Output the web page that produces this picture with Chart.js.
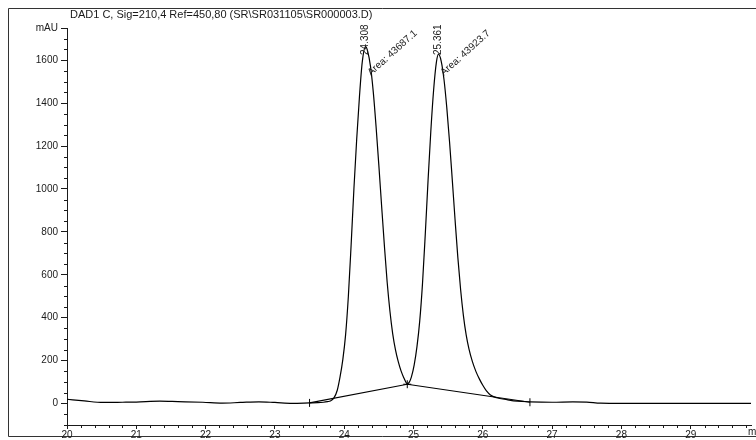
<!DOCTYPE html>
<html>
<head>
<meta charset="utf-8">
<script src="https://cdn.jsdelivr.net/npm/chart.js@4"></script>
<style>
  body { margin: 0; background: #fff; }
  canvas { display: block; }
</style>
</head>
<body>
<canvas id="chrom" width="756" height="440"></canvas>
<script>
// signal
const times = [20.00, 20.25, 20.52, 20.8, 21.0, 21.34, 21.6, 21.96, 22.24, 22.5, 22.77, 23.0, 23.25, 23.50,
  23.62, 23.70, 23.76, 23.80, 23.85, 23.90, 23.94, 23.98, 24.02, 24.06, 24.10, 24.14, 24.18, 24.22, 24.26, 24.308,
  24.34, 24.38, 24.42, 24.46, 24.50, 24.54, 24.58, 24.62, 24.66, 24.70, 24.74, 24.78, 24.82, 24.86, 24.89, 24.91,
  24.94, 24.97, 25.01, 25.05, 25.09, 25.13, 25.17, 25.21, 25.25, 25.29, 25.33, 25.361,
  25.40, 25.44, 25.48, 25.52, 25.56, 25.60, 25.64, 25.68, 25.72, 25.76, 25.80, 25.85, 25.90, 25.95, 26.00, 26.05,
  26.11, 26.20, 26.35, 26.50, 26.68, 27.0, 27.3, 27.5, 27.7, 28.0, 28.5, 29.0, 29.5, 29.87];
const signal = [20, 12, 5, 6, 7, 11, 9, 6, 2, 5, 8, 5, 1, 3,
  4, 6, 9, 12, 25, 62, 124, 205, 320, 500, 740, 1000, 1230, 1430, 1590, 1663,
  1640, 1570, 1450, 1290, 1110, 920, 735, 565, 430, 325, 250, 195, 152, 120, 100, 92,
  100, 124, 180, 265, 385, 560, 790, 1040, 1270, 1460, 1590, 1628,
  1595, 1510, 1380, 1220, 1040, 855, 680, 530, 410, 320, 255, 195, 150, 115, 85, 60,
  40, 27, 18, 11, 8, 6, 8, 7, 2, 1, 1, 1, 1, 1];

// integration baseline
const baseTimes = [23.5, 24.91, 26.68];
const baseValues = [3, 90, 6];

// peak annotations
const peakTimes = [24.308, 25.361];
const peakLabels = ['24.308', '25.361'];
const peakAreas = ['43687.1', '43923.7'];

const titleText = 'DAD1 C, Sig=210,4 Ref=450,80 (SR\\SR031105\\SR000003.D)';
const xTickValues = [20, 21, 22, 23, 24, 25, 26, 27, 28, 29];
const yTickValues = [0, 200, 400, 600, 800, 1000, 1200, 1400, 1600];
const yUnit = 'mAU';
const yUnitAt = 1750;
const xUnit = 'min';

const FONT = 'Liberation Sans, Arial, sans-serif';
const INK = '#1a1a1a';

const chromDecor = {
  id: 'chromDecor',
  beforeDraw(chart) {
    const { ctx } = chart;
    ctx.save();
    ctx.strokeStyle = '#333';
    ctx.lineWidth = 1;
    ctx.beginPath();
    ctx.moveTo(760, 8.5);
    ctx.lineTo(8.5, 8.5);
    ctx.lineTo(8.5, 436.5);
    ctx.lineTo(760, 436.5);
    ctx.stroke();
    ctx.fillStyle = INK;
    ctx.font = '11px ' + FONT;
    ctx.textAlign = 'left';
    ctx.textBaseline = 'middle';
    ctx.fillText(titleText, 70, 15);
    ctx.restore();
  },
  afterDraw(chart) {
    const { ctx, chartArea } = chart;
    const xs = chart.scales.x, ys = chart.scales.y;
    ctx.save();
    ctx.strokeStyle = INK;
    ctx.lineWidth = 1;
    // minor ticks
    ctx.beginPath();
    for (let v = -100; v <= 1750; v += 50) {
      if (v % 200 === 0 || v === yUnitAt) continue;
      const py = Math.round(ys.getPixelForValue(v)) + 0.5;
      ctx.moveTo(chartArea.left - 3, py);
      ctx.lineTo(chartArea.left, py);
    }
    for (let i = 0; i < 50; i++) {
      if (i % 5 === 0) continue;
      const px = Math.round(xs.getPixelForValue(20 + i * 0.2)) + 0.5;
      ctx.moveTo(px, chartArea.bottom);
      ctx.lineTo(px, chartArea.bottom + 3);
    }
    ctx.stroke();

    ctx.fillStyle = INK;
    ctx.font = '10px ' + FONT;
    ctx.textBaseline = 'middle';
    ctx.textAlign = 'left';
    ctx.fillText(xUnit, chartArea.right - 3, 432);

    // retention times and areas
    peakTimes.forEach((t, i) => {
      const px = xs.getPixelForValue(t);
      ctx.save();
      ctx.translate(px, chartArea.top + 27);
      ctx.rotate(-Math.PI / 2);
      ctx.fillText(peakLabels[i], 0, 0);
      ctx.restore();
      ctx.save();
      ctx.translate(px + 3.5, chartArea.top + 46);
      ctx.rotate(-42 * Math.PI / 180);
      ctx.fillText('Area: ' + peakAreas[i], 0, 0);
      ctx.restore();
    });
    ctx.restore();
  }
};

new Chart(document.getElementById('chrom'), {
  type: 'line',
  data: {
    datasets: [{
      label: 'signal',
      data: times.map((t, i) => ({ x: t, y: signal[i] })),
      borderColor: '#000',
      borderWidth: 1.2,
      pointRadius: 0,
      cubicInterpolationMode: 'monotone'
    }, {
      label: 'baseline',
      data: baseTimes.map((t, i) => ({ x: t, y: baseValues[i] })),
      borderColor: '#000',
      borderWidth: 1.1,
      tension: 0,
      pointStyle: ['line', 'cross', 'line'],
      pointRotation: [90, 0, 90],
      pointRadius: [4, 4, 4],
      pointBorderColor: '#000',
      pointBorderWidth: 1
    }]
  },
  options: {
    responsive: false,
    devicePixelRatio: 1,
    animation: false,
    layout: { padding: { top: 28, left: 0, right: 0, bottom: 0 } },
    plugins: { legend: { display: false }, tooltip: { enabled: false } },
    scales: {
      x: {
        type: 'linear',
        min: 20,
        max: 29.87,
        afterBuildTicks: s => { s.ticks = xTickValues.map(v => ({ value: v })); },
        afterFit: s => { s.height = 15; s.paddingLeft = 0; s.paddingRight = 0; },
        grid: { drawOnChartArea: false, tickLength: 4, color: INK },
        border: { color: INK, width: 1 },
        ticks: { color: INK, padding: 0, maxRotation: 0, font: { family: FONT, size: 10 } }
      },
      y: {
        min: -100,
        max: 1750,
        afterBuildTicks: s => { s.ticks = yTickValues.concat([yUnitAt]).map(v => ({ value: v })); },
        afterFit: s => { s.width = 67; s.paddingTop = 0; s.paddingBottom = 0; },
        grid: { drawOnChartArea: false, tickLength: 6, color: INK },
        border: { color: INK, width: 1 },
        ticks: {
          color: INK, padding: 3, font: { family: FONT, size: 10 },
          callback: v => (v === yUnitAt ? yUnit : String(v))
        }
      }
    }
  },
  plugins: [chromDecor]
});
</script>
</body>
</html>
